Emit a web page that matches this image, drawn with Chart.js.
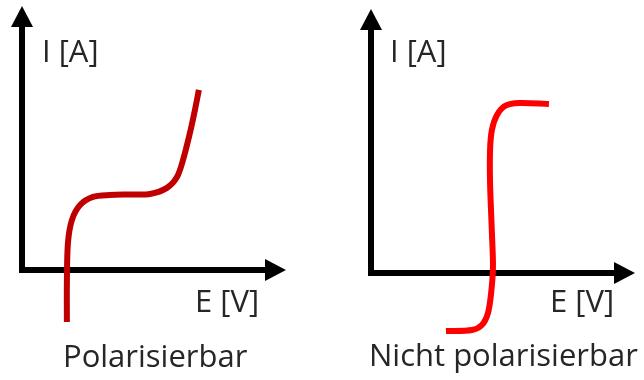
<!DOCTYPE html>
<html>
<head>
<meta charset="utf-8">
<script src="https://cdn.jsdelivr.net/npm/chart.js@4"></script>
<style>
    html, body { margin: 0; padding: 0; background: #fff; }
    #wrap { position: relative; width: 644px; height: 380px; overflow: hidden; }
    canvas { position: absolute; top: 0; }
    .lbl {
        position: absolute;
        font-family: "Open Sans", sans-serif;
        font-size: 31px;
        line-height: 31px;
        color: #262626;
        white-space: nowrap;
    }
</style>
</head>
<body>
<div id="wrap">
    <canvas id="left" width="322" height="380" style="left:0"></canvas>
    <canvas id="right" width="322" height="380" style="left:322px"></canvas>

    <div class="lbl" style="left:42px; top:35px">I [A]</div>
    <div class="lbl" style="left:195px; top:285px">E [V]</div>
    <div class="lbl" style="left:63px; top:340px">Polarisierbar</div>

    <div class="lbl" style="left:390px; top:35px">I [A]</div>
    <div class="lbl" style="left:550px; top:285px">E [V]</div>
    <div class="lbl" style="left:369px; top:339px">Nicht polarisierbar</div>
</div>

<script>
// both axes run from 0 to this value (arrow tip)
var axisEnd = 10;

// polarisierbar: E [V] and I [A]
var polE = [1.70, 1.70, 1.74, 1.89, 2.20, 2.69, 3.33, 4.09, 4.85, 5.49, 5.87, 6.10, 6.36, 6.55, 6.70];
var polI = [-1.97, -0.49, 1.02, 1.89, 2.46, 2.77, 2.84, 2.86, 2.88, 3.11, 3.52, 4.17, 5.19, 6.06, 6.82];

// nicht polarisierbar
var npE = [2.84, 3.83, 4.20, 4.43, 4.55, 4.62, 4.58, 4.51, 4.51, 4.58, 4.77, 5.08, 5.61, 6.74];
var npI = [-2.20, -2.16, -1.97, -1.52, -0.76, 0.23, 1.52, 3.41, 4.66, 5.42, 5.98, 6.33, 6.44, 6.40];

function toPoints(xs, ys) {
    return xs.map(function (x, i) { return { x: x, y: ys[i] }; });
}

var arrowAxesPlugin = {
    id: 'arrowAxes',
    beforeDatasetsDraw: function (chart) {
        var ctx = chart.ctx;
        var xs = chart.scales.x, ys = chart.scales.y;
        var ox = xs.getPixelForValue(0), oy = ys.getPixelForValue(0);
        var tx = xs.getPixelForValue(axisEnd), ty = ys.getPixelForValue(axisEnd);
        var len = 21, half = 11;

        ctx.save();
        ctx.strokeStyle = '#000';
        ctx.fillStyle = '#000';
        ctx.lineWidth = 6;
        ctx.lineJoin = 'miter';
        ctx.beginPath();
        ctx.moveTo(ox, ty + len - 1);
        ctx.lineTo(ox, oy);
        ctx.lineTo(tx - len + 1, oy);
        ctx.stroke();

        ctx.beginPath();
        ctx.moveTo(ox, ty);
        ctx.lineTo(ox - half, ty + len);
        ctx.lineTo(ox + half, ty + len);
        ctx.closePath();
        ctx.fill();

        ctx.beginPath();
        ctx.moveTo(tx, oy);
        ctx.lineTo(tx - len, oy - half);
        ctx.lineTo(tx - len, oy + half);
        ctx.closePath();
        ctx.fill();
        ctx.restore();
    }
};

// origin is where the axes cross inside each 322x380 canvas
function renderPanel(canvasId, xs, ys, color, originX, originY) {
    var unit = 26.4;
    var w = 322, h = 380;
    new Chart(document.getElementById(canvasId), {
        type: 'scatter',
        data: {
            datasets: [{
                data: toPoints(xs, ys),
                showLine: true,
                borderColor: color,
                borderWidth: 6,
                borderCapStyle: 'butt',
                borderJoinStyle: 'round',
                pointRadius: 0,
                tension: 0.3,
                fill: false
            }]
        },
        options: {
            responsive: false,
            animation: false,
            layout: { padding: 0 },
            scales: {
                x: { type: 'linear', display: false, min: -originX / unit, max: (w - originX) / unit },
                y: { type: 'linear', display: false, min: -(h - originY) / unit, max: originY / unit }
            },
            plugins: {
                legend: { display: false },
                tooltip: { enabled: false }
            }
        },
        plugins: [arrowAxesPlugin]
    });
}

renderPanel('left', polE, polI, '#C00000', 22, 270);
renderPanel('right', npE, npI, '#FF0000', 49, 273);
</script>
</body>
</html>
